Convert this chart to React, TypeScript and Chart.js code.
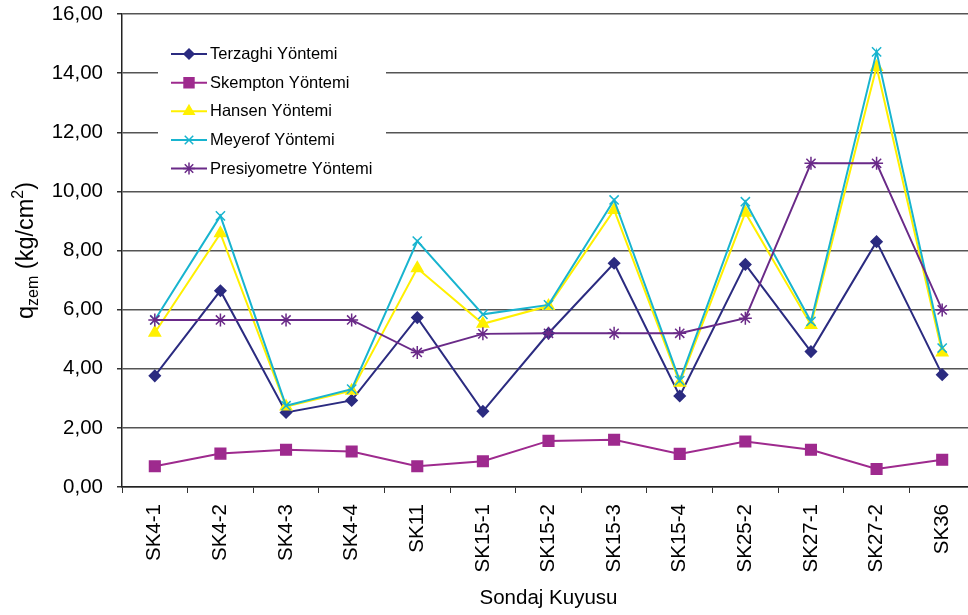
import React, { useEffect, useRef } from 'react';
import { Chart, registerables } from 'chart.js';

Chart.register(...registerables);

const categories = ['SK4-1', 'SK4-2', 'SK4-3', 'SK4-4', 'SK11', 'SK15-1', 'SK15-2', 'SK15-3', 'SK15-4', 'SK25-2', 'SK27-1', 'SK27-2', 'SK36'];
const terzaghi = [3.76, 6.64, 2.52, 2.93, 5.73, 2.56, 5.2, 7.57, 3.08, 7.53, 4.58, 8.3, 3.8];
const skempton = [0.7, 1.13, 1.26, 1.2, 0.7, 0.87, 1.56, 1.6, 1.12, 1.54, 1.26, 0.61, 0.92];
const hansen = [5.22, 8.58, 2.72, 3.26, 7.4, 5.52, 6.12, 9.37, 3.53, 9.28, 5.48, 14.21, 4.55];
const meyerof = [5.65, 9.17, 2.75, 3.31, 8.32, 5.84, 6.16, 9.71, 3.6, 9.65, 5.6, 14.72, 4.7];
const presiyometre = [5.65, 5.65, 5.65, 5.65, 4.55, 5.18, 5.2, 5.2, 5.2, 5.71, 10.95, 10.95, 5.99];

const seriesNames = ['Terzaghi Yöntemi', 'Skempton Yöntemi', 'Hansen Yöntemi', 'Meyerof Yöntemi', 'Presiyometre Yöntemi'];
const yMin = 0;
const yMax = 16;
const yStep = 2;
const xTitle = 'Sondaj Kuyusu';

const FONT = "'Liberation Sans', Arial, sans-serif";

const styles = [
  { color: '#2B2B80', point: 'rectRot', radius: 5.5, width: 2 },
  { color: '#9E2A8E', point: 'rect', radius: 7.5, width: 2 },
  { color: '#FFF000', point: 'triangle', radius: 6.5, width: 2 },
  { color: '#18B4CF', point: 'crossRot', radius: 6.5, width: 2 },
  { color: '#6A2A88', point: 'star', radius: 6.5, width: 1.9 },
];

function drawMarker(ctx: CanvasRenderingContext2D, type: string, x: number, y: number, r: number, color: string) {
  ctx.save();
  ctx.fillStyle = color;
  ctx.strokeStyle = color;
  ctx.lineWidth = 1.5;
  ctx.beginPath();
  if (type === 'rectRot') {
    ctx.moveTo(x - r, y);
    ctx.lineTo(x, y - r);
    ctx.lineTo(x + r, y);
    ctx.lineTo(x, y + r);
    ctx.closePath();
    ctx.fill();
    ctx.stroke();
  } else if (type === 'rect') {
    const s = r * Math.SQRT1_2;
    ctx.rect(x - s, y - s, 2 * s, 2 * s);
    ctx.fill();
    ctx.stroke();
  } else if (type === 'triangle') {
    for (let i = 0; i < 3; i++) {
      const a = (i * 2 * Math.PI) / 3;
      const px = x + Math.sin(a) * r;
      const py = y - Math.cos(a) * r;
      if (i === 0) ctx.moveTo(px, py);
      else ctx.lineTo(px, py);
    }
    ctx.closePath();
    ctx.fill();
    ctx.stroke();
  } else if (type === 'crossRot' || type === 'star') {
    const d = r * Math.SQRT1_2;
    ctx.moveTo(x - d, y - d);
    ctx.lineTo(x + d, y + d);
    ctx.moveTo(x - d, y + d);
    ctx.lineTo(x + d, y - d);
    if (type === 'star') {
      ctx.moveTo(x, y - r);
      ctx.lineTo(x, y + r);
      ctx.moveTo(x - r, y);
      ctx.lineTo(x + r, y);
    }
    ctx.stroke();
  }
  ctx.restore();
}

const legendPlugin = {
  id: 'customLegend',
  afterDraw(chart: any) {
    const ctx = chart.ctx as CanvasRenderingContext2D;
    const rows = [54, 82.7, 111.3, 140, 168.5];
    ctx.save();
    ctx.fillStyle = '#fff';
    ctx.fillRect(158, 36, 228, 149);
    seriesNames.forEach((name, i) => {
      const st = styles[i];
      const y = rows[i];
      ctx.strokeStyle = st.color;
      ctx.lineWidth = 2;
      ctx.beginPath();
      ctx.moveTo(171, y);
      ctx.lineTo(207, y);
      ctx.stroke();
      drawMarker(ctx, st.point, 189, y, st.radius - 0.5, st.color);
      ctx.fillStyle = '#000';
      ctx.font = `16.5px ${FONT}`;
      ctx.textBaseline = 'middle';
      ctx.textAlign = 'left';
      ctx.fillText(name, 210, y + 0.5);
    });
    ctx.restore();
  },
};

const yTitlePlugin = {
  id: 'yTitle',
  afterDraw(chart: any) {
    const ctx = chart.ctx as CanvasRenderingContext2D;
    const area = chart.chartArea;
    const main = `23.5px ${FONT}`;
    const small = `16px ${FONT}`;
    const parts = [
      { t: 'q', f: main, dy: 0 },
      { t: 'zem', f: small, dy: 5 },
      { t: ' (kg/cm', f: main, dy: 0 },
      { t: '2', f: small, dy: -10 },
      { t: ')', f: main, dy: 0 },
    ];
    ctx.save();
    let total = 0;
    const widths = parts.map((p) => {
      ctx.font = p.f;
      const w = ctx.measureText(p.t).width;
      total += w;
      return w;
    });
    ctx.translate(33, (area.top + area.bottom) / 2);
    ctx.rotate(-Math.PI / 2);
    ctx.fillStyle = '#000';
    ctx.textBaseline = 'alphabetic';
    ctx.textAlign = 'left';
    let x = -total / 2;
    parts.forEach((p, i) => {
      ctx.font = p.f;
      ctx.fillText(p.t, x, p.dy);
      x += widths[i];
    });
    ctx.restore();
  },
};

function ChartView() {
  const ref = useRef<HTMLCanvasElement | null>(null);
  useEffect(() => {
    if (!ref.current) return;
    const data = [terzaghi, skempton, hansen, meyerof, presiyometre];
    const chart = new Chart(ref.current, {
      type: 'line',
      data: {
        labels: categories,
        datasets: data.map((vals, i) => ({
          label: seriesNames[i],
          data: vals,
          borderColor: styles[i].color,
          backgroundColor: styles[i].color,
          borderWidth: styles[i].width,
          pointStyle: styles[i].point as any,
          pointRadius: styles[i].radius,
          pointBorderWidth: 1.5,
          pointBackgroundColor: styles[i].color,
          pointBorderColor: styles[i].color,
          tension: 0,
          fill: false,
          order: 5 - i,
        })),
      },
      options: {
        responsive: false,
        animation: false,
        devicePixelRatio: 1,
        layout: { padding: { top: 14, right: 15, left: 0, bottom: 0 } },
        plugins: {
          legend: { display: false },
          tooltip: { enabled: false },
        },
        scales: {
          x: {
            offset: true,
            grid: {
              offset: true,
              drawOnChartArea: false,
              drawTicks: true,
              tickLength: 6,
              tickColor: '#333',
              lineWidth: 1,
            },
            border: { color: '#222', width: 1.5 },
            ticks: {
              autoSkip: false,
              minRotation: 90,
              maxRotation: 90,
              padding: 11,
              color: '#000',
              font: { family: FONT, size: 20.5 },
            },
            title: {
              display: true,
              text: xTitle,
              color: '#000',
              font: { family: FONT, size: 20.5 },
              padding: { top: 4, bottom: 4 },
            },
            afterFit(scale: any) {
              scale.height = 128;
              scale.paddingLeft = 0;
              scale.paddingRight = 0;
              scale.paddingTop = 0;
              scale.paddingBottom = 0;
            },
          },
          y: {
            min: yMin,
            max: yMax,
            ticks: {
              stepSize: yStep,
              padding: 14,
              color: '#000',
              font: { family: FONT, size: 20.5 },
              callback: (v: any) => Number(v).toFixed(2).replace('.', ','),
            },
            grid: {
              color: '#555555',
              lineWidth: 1.5,
              drawTicks: true,
              tickLength: 5,
              tickColor: '#333',
            },
            border: { color: '#222', width: 1.5 },
            afterFit(scale: any) {
              scale.width = 122;
              scale.paddingTop = 0;
              scale.paddingBottom = 0;
              scale.paddingLeft = 0;
              scale.paddingRight = 0;
            },
          },
        },
      },
      plugins: [legendPlugin, yTitlePlugin],
    });
    return () => chart.destroy();
  }, []);
  return <canvas ref={ref} width={990} height={615} style={{ display: 'block', width: 990, height: 615 }} />;
}

export default function App() {
  return (
    <div style={{ position: 'fixed', left: 0, top: 0, width: 968, height: 615, overflow: 'hidden', background: '#fff' }}>
      <ChartView />
    </div>
  );
}
